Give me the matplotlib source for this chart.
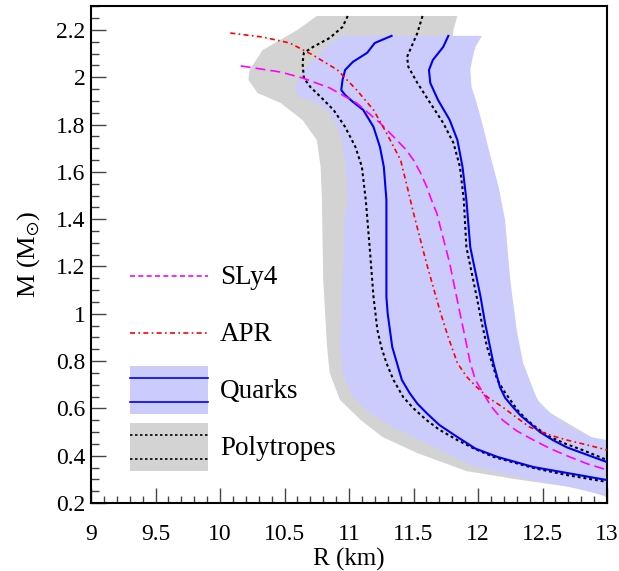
import numpy as np
import matplotlib
matplotlib.use("Agg")
import matplotlib.pyplot as plt
from matplotlib.ticker import MultipleLocator, FuncFormatter
from matplotlib.legend_handler import HandlerBase
from matplotlib.patches import Rectangle, Patch
from matplotlib.lines import Line2D

plt.rcParams['font.family'] = ['Liberation Serif', 'DejaVu Serif']
plt.rcParams['mathtext.fontset'] = 'stix'

# ---------------- data (R in km, M in solar masses) ----------------
# Polytropes band (grey)
poly_left_R = [10.75, 10.60, 10.33, 10.23, 10.22, 10.29, 10.47, 10.64, 10.75, 10.78, 10.79,
               10.80, 10.83, 10.85, 10.93, 11.09, 11.26, 11.53, 11.91, 12.30, 12.81, 13.0]
poly_left_M = [2.259, 2.200, 2.115, 2.031, 1.989, 1.934, 1.891, 1.819, 1.735, 1.621, 1.481,
               1.143, 0.860, 0.750, 0.636, 0.551, 0.479, 0.411, 0.335, 0.300, 0.260, 0.225]
poly_right_R = [11.84, 11.81, 11.80, 11.90, 12.00, 12.15, 12.20, 12.30, 12.50, 13.0]
poly_right_M = [2.259, 2.200, 2.150, 2.000, 1.700, 1.400, 1.100, 0.800, 0.600, 0.440]

# Quarks band (blue)
quark_left_R = [10.95, 10.85, 10.78, 10.67, 10.60, 10.58, 10.62, 10.75, 10.85, 10.93, 10.97,
                10.99, 10.97, 10.95, 10.93, 10.95, 11.03, 11.16, 11.34, 11.60, 11.94, 12.30,
                12.69, 13.0]
quark_left_M = [2.175, 2.145, 2.103, 2.044, 1.989, 1.946, 1.917, 1.891, 1.849, 1.765, 1.650,
                1.481, 1.426, 1.143, 0.860, 0.750, 0.648, 0.581, 0.521, 0.452, 0.360, 0.310,
                0.270, 0.230]
quark_right_R = [12.03, 11.98, 11.96, 11.94, 11.95, 11.99, 12.04, 12.09, 12.16, 12.21, 12.25,
                 12.30, 12.35, 12.46, 12.56, 12.71, 12.87, 13.0]
quark_right_M = [2.175, 2.128, 2.086, 2.031, 1.959, 1.891, 1.790, 1.680, 1.536, 1.397, 1.143,
                 0.932, 0.792, 0.636, 0.581, 0.521, 0.479, 0.466]

# Quark boundary curves (solid blue)
q1_R = [11.33, 11.20, 11.14, 11.03, 10.97, 10.95, 10.94, 10.97, 11.03, 11.11, 11.19, 11.24,
        11.27, 11.29, 11.29, 11.29, 11.30, 11.335, 11.41, 11.47, 11.53, 11.60, 11.70, 11.84,
        11.98, 12.15, 12.43, 12.69, 13.0]
q1_M = [2.175, 2.145, 2.103, 2.065, 2.031, 1.989, 1.946, 1.925, 1.896, 1.862, 1.790, 1.705,
        1.621, 1.481, 1.282, 1.071, 1.000, 0.860, 0.720, 0.665, 0.620, 0.581, 0.530, 0.479,
        0.430, 0.395, 0.352, 0.327, 0.297]
q2_R = [11.77, 11.73, 11.65, 11.62, 11.63, 11.69, 11.78, 11.84, 11.88, 11.91, 11.94, 12.02,
        12.055, 12.12, 12.17, 12.21, 12.27, 12.33, 12.40, 12.48, 12.58, 12.69, 12.81, 13.0]
q2_M = [2.175, 2.128, 2.073, 2.031, 1.976, 1.904, 1.820, 1.735, 1.621, 1.481, 1.282, 1.071,
        0.960, 0.790, 0.690, 0.645, 0.606, 0.570, 0.538, 0.500, 0.466, 0.435, 0.411, 0.373]

# Polytrope boundary curves (black dotted)
p1_R = [10.99, 10.95, 10.85, 10.72, 10.65, 10.64, 10.65, 10.70, 10.78, 10.88, 10.97, 11.05,
        11.10, 11.13, 11.16, 11.19, 11.22, 11.25, 11.29, 11.345, 11.42, 11.50, 11.60, 11.70,
        11.84, 11.97, 12.12, 12.43, 12.69, 13.0]
p1_M = [2.259, 2.213, 2.166, 2.128, 2.103, 2.060, 1.997, 1.959, 1.917, 1.862, 1.790, 1.705,
        1.621, 1.481, 1.282, 1.071, 0.932, 0.860, 0.792, 0.720, 0.648, 0.600, 0.551, 0.510,
        0.466, 0.430, 0.395, 0.348, 0.318, 0.289]
p2_R = [11.57, 11.53, 11.45, 11.46, 11.53, 11.63, 11.73, 11.81, 11.86, 11.89, 11.91, 11.99,
        12.03, 12.07, 12.11, 12.15, 12.20, 12.25, 12.31, 12.38, 12.46, 12.56, 12.68, 12.81, 13.0]
p2_M = [2.259, 2.187, 2.086, 2.044, 1.976, 1.891, 1.807, 1.722, 1.621, 1.481, 1.282, 1.071,
        0.960, 0.860, 0.790, 0.720, 0.675, 0.636, 0.590, 0.551, 0.515, 0.479, 0.450, 0.424, 0.382]

# SLy4 (magenta dashed)
sly4_R = [10.16, 10.47, 10.64, 10.85, 11.06, 11.24, 11.37, 11.44, 11.50, 11.555, 11.60, 11.64,
          11.68, 11.78, 11.86, 11.90, 11.94, 11.98, 12.04, 12.10, 12.19, 12.30, 12.43, 12.56,
          12.71, 12.85, 13.0]
sly4_M = [2.048, 2.022, 1.997, 1.955, 1.891, 1.807, 1.735, 1.695, 1.650, 1.595, 1.540, 1.480,
          1.426, 1.215, 1.003, 0.900, 0.792, 0.720, 0.665, 0.610, 0.551, 0.505, 0.466, 0.430,
          0.395, 0.365, 0.340]

# APR (red dash-dot)
apr_R = [10.08, 10.33, 10.54, 10.72, 10.91, 11.06, 11.19, 11.29, 11.40, 11.45, 11.50, 11.60,
         11.71, 11.77, 11.84, 11.91, 11.99, 12.08, 12.19, 12.29, 12.40, 12.54, 12.69, 12.85, 13.0]
apr_M = [2.187, 2.170, 2.145, 2.094, 2.031, 1.946, 1.862, 1.765, 1.650, 1.540, 1.426, 1.215,
         1.003, 0.900, 0.792, 0.735, 0.690, 0.645, 0.606, 0.565, 0.521, 0.490, 0.466, 0.445, 0.424]

labels = ["SLy4", "APR", "Quarks", "Polytropes"]
x_ticks = [9, 9.5, 10, 10.5, 11, 11.5, 12, 12.5, 13]
y_ticks = [0.2, 0.4, 0.6, 0.8, 1.0, 1.2, 1.4, 1.6, 1.8, 2.0, 2.2]

# ---------------- styles ----------------
GREY = '#d3d3d3'
LBLUE = '#ccccfc'
BLUE = '#0000f0'
MAG = '#ff00ff'
RED = '#ff0000'

fig = plt.figure(figsize=(6.19, 5.71), dpi=100)
ax = fig.add_axes([91/619, 1-503/571, (607-91)/619, (503-6.3)/571])

ax.fill(poly_left_R + poly_right_R[::-1], poly_left_M + poly_right_M[::-1],
        color=GREY, lw=0, zorder=1)
ax.fill(quark_left_R + quark_right_R[::-1], quark_left_M + quark_right_M[::-1],
        color=LBLUE, lw=0, zorder=2)

dot_kw = dict(color='black', lw=1.5, dashes=(1.4, 1.4), zorder=3)
ax.plot(p1_R, p1_M, **dot_kw)
ax.plot(p2_R, p2_M, **dot_kw)
ax.plot(q1_R, q1_M, color=BLUE, lw=1.5, zorder=4)
ax.plot(q2_R, q2_M, color=BLUE, lw=1.5, zorder=4)
ax.plot(sly4_R, sly4_M, color=MAG, lw=1.2, dashes=(6, 3), zorder=5)
ax.plot(apr_R, apr_M, color=RED, lw=1.2, dashes=(3, 2, 1, 2), zorder=5)

ax.set_xlim(9, 13)
ax.set_ylim(0.2, 2.3)
ax.set_xticks(x_ticks)
ax.set_yticks(y_ticks)
fmt = FuncFormatter(lambda v, p: '%g' % v)
ax.xaxis.set_major_formatter(fmt)
ax.yaxis.set_major_formatter(fmt)
ax.xaxis.set_minor_locator(MultipleLocator(0.1))
ax.yaxis.set_minor_locator(MultipleLocator(0.05))
ax.tick_params(which='both', direction='in', top=False, right=False, color='#444444', width=1.0)
ax.tick_params(axis='x', which='major', length=10.5, pad=15, labelsize=17)
ax.tick_params(axis='x', which='minor', length=5)
ax.tick_params(axis='y', which='major', length=11, pad=4, labelsize=17)
ax.tick_params(axis='y', which='minor', length=6)
for s in ax.spines.values():
    s.set_linewidth(1.5)

ax.set_xlabel('R (km)', fontsize=18, labelpad=2)
ax.set_ylabel(r'M (M$_{\odot}$)', fontsize=19, labelpad=10)


class BandHandler(HandlerBase):
    def __init__(self, face, line_kw):
        super().__init__()
        self.face = face
        self.line_kw = line_kw

    def create_artists(self, legend, orig_handle, xdescent, ydescent, width, height,
                       fontsize, trans):
        x0, y0 = -xdescent, -ydescent
        arts = []
        if self.face is not None:
            arts.append(Rectangle((x0, y0), width, height, facecolor=self.face,
                                  edgecolor='none', transform=trans))
            fr = (0.75, 0.25)
        else:
            fr = (0.5,)
        for f in fr:
            arts.append(Line2D([x0, x0 + width], [y0 + f * height] * 2, transform=trans,
                               **self.line_kw))
        return arts


h_sly = Patch()
h_apr = Patch()
h_q = Patch()
h_p = Patch()
fs = 19.5
fpx = fs / 72 * 100
hh = (48 / fpx - 0.245) / 0.65
leg = ax.legend([h_sly, h_apr, h_q, h_p], labels,
                handler_map={h_sly: BandHandler(None, dict(color=MAG, lw=1.2, dashes=(3, 2))),
                             h_apr: BandHandler(None, dict(color=RED, lw=1.2, dashes=(3, 2, 1, 2))),
                             h_q: BandHandler(LBLUE, dict(color=BLUE, lw=1.2)),
                             h_p: BandHandler(GREY, dict(color='black', lw=1.2, dashes=(1.5, 1.5)))},
                loc='upper left', bbox_to_anchor=(130/619, 1-252/571),
                bbox_transform=fig.transFigure, frameon=False, fontsize=fs,
                borderpad=0, borderaxespad=0, handlelength=78/fpx, handleheight=hh,
                handletextpad=12/fpx, labelspacing=9/fpx)

fig.savefig('out.png', dpi=100)
